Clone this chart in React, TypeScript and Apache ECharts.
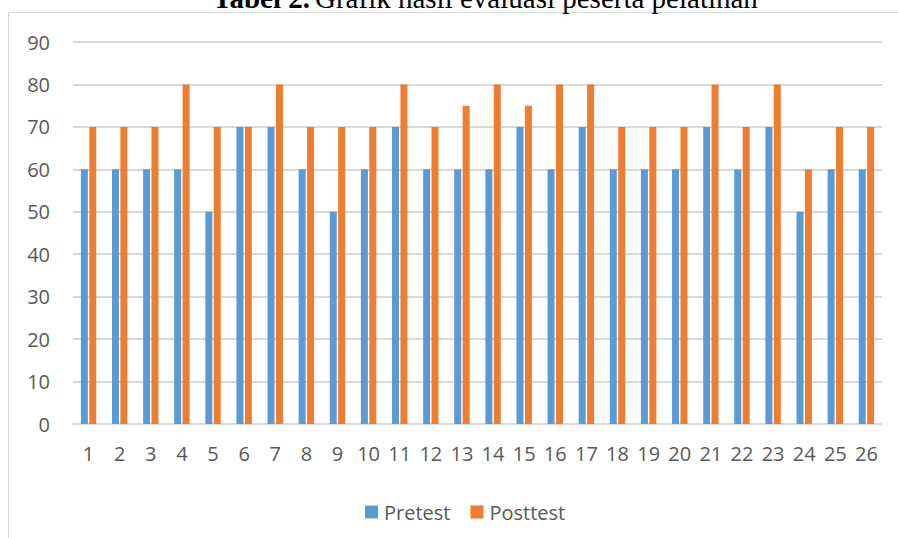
import React, { useEffect, useRef } from "react";
import * as echarts from "echarts";

const categories = ["1","2","3","4","5","6","7","8","9","10","11","12","13","14","15","16","17","18","19","20","21","22","23","24","25","26"];
const pretest = [60,60,60,60,50,70,70,60,50,60,70,60,60,60,70,60,70,60,60,60,70,60,70,50,60,60];
const posttest = [70,70,70,80,70,70,80,70,70,70,80,70,75,80,75,80,80,70,70,70,80,70,80,60,70,70];
const titleBold = "Tabel 2.";
const titleRest = "Grafik hasil evaluasi peserta pelatihan";

const FONT = "'Open Sans', 'Noto Sans', sans-serif";

export default function App() {
  const ref = useRef<HTMLDivElement>(null);
  useEffect(() => {
    if (!ref.current) return;
    const chart = echarts.init(ref.current, undefined, { renderer: "svg" });
    chart.setOption({
      animation: false,
      backgroundColor: "#ffffff",
      graphic: [
        {
          type: "rect",
          shape: { x: 8.5, y: 12.5, width: 900, height: 600 },
          style: { fill: "none", stroke: "#D9D9D9", lineWidth: 1 },
          silent: true,
        },
        {
          type: "text",
          x: 310,
          y: 12,
          style: {
            text: titleBold,
            font: "bold 29px 'Liberation Serif', 'Times New Roman', serif",
            fill: "#000000",
            textAlign: "right",
            textVerticalAlign: "bottom",
          },
        },
        {
          type: "text",
          x: 315,
          y: 12,
          style: {
            text: titleRest,
            font: "29px 'Liberation Serif', 'Times New Roman', serif",
            fill: "#000000",
            textAlign: "left",
            textVerticalAlign: "bottom",
          },
        },
      ],
      grid: { left: 73, right: 16, top: 42, bottom: 114, containLabel: false },
      legend: {
        left: 360,
        top: 497,
        itemWidth: 13,
        itemHeight: 13,
        itemGap: 20,
        icon: "rect",
        textStyle: { fontFamily: FONT, fontSize: 20, color: "#595959", padding: [0, 0, 0, 1] },
        data: ["Pretest", "Posttest"],
      },
      xAxis: {
        type: "category",
        data: categories,
        axisLine: { lineStyle: { color: "#D9D9D9", width: 2 } },
        axisTick: { show: false },
        axisLabel: { fontFamily: FONT, fontSize: 20, color: "#595959", margin: 19, interval: 0 },
      },
      yAxis: {
        type: "value",
        min: 0,
        max: 90,
        interval: 10,
        axisLine: { show: false },
        axisTick: { show: false },
        splitLine: { lineStyle: { color: "#D9D9D9", width: 2 } },
        axisLabel: { fontFamily: FONT, fontSize: 20, color: "#595959", margin: 23 },
      },
      series: [
        {
          name: "Pretest",
          type: "bar",
          data: pretest,
          barWidth: 7,
          barGap: "20%",
          itemStyle: { color: "#5B9BD5" },
        },
        {
          name: "Posttest",
          type: "bar",
          data: posttest,
          barWidth: 7,
          barGap: "20%",
          itemStyle: { color: "#ED7D31" },
        },
      ],
    });
    return () => chart.dispose();
  }, []);
  return <div ref={ref} style={{ width: 898, height: 538, position: "absolute", left: 0, top: 0 }} />;
}
